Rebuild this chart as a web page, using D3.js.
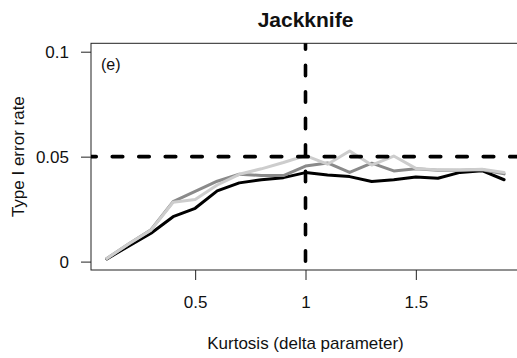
<!DOCTYPE html>
<html>
<head>
<meta charset="utf-8">
<script src="https://cdn.jsdelivr.net/npm/d3@7"></script>
<style>
  html, body { margin: 0; padding: 0; background: #fff; }
  svg { display: block; font-family: "Liberation Sans", Arial, Helvetica, sans-serif; }
</style>
</head>
<body>
<svg id="chart" width="517" height="358"></svg>
<script>
// Kurtosis (delta parameter) values at which the error rate was estimated
const kurtosis = [0.1, 0.2, 0.3, 0.4, 0.5, 0.6, 0.7, 0.8, 0.9, 1.0,
                  1.1, 1.2, 1.3, 1.4, 1.5, 1.6, 1.7, 1.8, 1.9];

// Type I error rates, one series per shade
const seriesBlack = [0.0013, 0.0075, 0.0135, 0.0214, 0.0254, 0.0337, 0.0375, 0.0390, 0.0400, 0.0424,
                     0.0413, 0.0405, 0.0382, 0.0390, 0.0403, 0.0397, 0.0425, 0.0433, 0.0390];
const seriesDark  = [0.0015, 0.0085, 0.0152, 0.0286, 0.0335, 0.0383, 0.0416, 0.0410, 0.0410, 0.0455,
                     0.0470, 0.0425, 0.0469, 0.0432, 0.0442, 0.0435, 0.0435, 0.0438, 0.0418];
const seriesLight = [0.0015, 0.0085, 0.0150, 0.0283, 0.0296, 0.0365, 0.0416, 0.0442, 0.0472, 0.0505,
                     0.0464, 0.0527, 0.0460, 0.0503, 0.0444, 0.0437, 0.0436, 0.0440, 0.0425];

const seriesColors = ["#000000", "#8a8a8a", "#cdcdcd"];

const xTicks = [0.5, 1, 1.5];
const yTicks = [0, 0.05, 0.1];
const yTickLabels = ["0", "0.05", "0.1"];

const nominalRate = 0.05;   // horizontal reference
const normalDelta = 1;      // vertical reference

const titleText = "Jackknife";
const panelTag = "(e)";
const xTitle = "Kurtosis (delta parameter)";
const yTitle = "Type I error rate";

const svg = d3.select("#chart");

const plot = { left: 91, right: 520, top: 43.3, bottom: 270 };

const x = d3.scaleLinear().domain([0.028, 1.972]).range([plot.left, plot.right]);
const y = d3.scaleLinear().domain([-0.004, 0.104]).range([plot.bottom, plot.top]);

svg.append("defs").append("clipPath").attr("id", "plotClip")
  .append("rect")
  .attr("x", plot.left).attr("y", plot.top)
  .attr("width", plot.right - plot.left).attr("height", plot.bottom - plot.top);

// Axes
const xAxis = d3.axisBottom(x).tickValues(xTicks).tickSize(10).tickPadding(17)
  .tickFormat(d3.format("~g"));
const gx = svg.append("g").attr("transform", `translate(0,${plot.bottom})`).call(xAxis);
gx.select(".domain").remove();

const yAxis = d3.axisLeft(y).tickValues(yTicks).tickSize(10).tickPadding(12)
  .tickFormat((d, i) => yTickLabels[i]);
const gy = svg.append("g").attr("transform", `translate(${plot.left},0)`).call(yAxis);
gy.select(".domain").remove();

[gx, gy].forEach(g => {
  g.selectAll(".tick line").attr("stroke", "#222").attr("stroke-width", 1);
  g.selectAll(".tick text").attr("fill", "#111").style("font-size", "17px");
});
gx.selectAll(".tick text").attr("dy", null).attr("y", 38);

// Plot frame
svg.append("rect")
  .attr("x", plot.left).attr("y", plot.top)
  .attr("width", plot.right - plot.left).attr("height", plot.bottom - plot.top)
  .attr("fill", "none").attr("stroke", "#222").attr("stroke-width", 1);

const body = svg.append("g").attr("clip-path", "url(#plotClip)");

// Series lines
const line = d3.line().x((d, i) => x(kurtosis[i])).y(d => y(d));
[seriesBlack, seriesDark, seriesLight].forEach((s, k) => {
  body.append("path")
    .datum(s)
    .attr("d", line)
    .attr("fill", "none")
    .attr("stroke", seriesColors[k])
    .attr("stroke-width", 3)
    .attr("stroke-linejoin", "round")
    .attr("stroke-linecap", "round");
});

// Dashed reference lines
body.append("line")
  .attr("x1", plot.left).attr("x2", plot.right)
  .attr("y1", y(nominalRate)).attr("y2", y(nominalRate))
  .attr("stroke", "#000").attr("stroke-width", 3.6)
  .attr("stroke-linecap", "round")
  .attr("stroke-dasharray", "10.5,16")
  .attr("stroke-dashoffset", 5.25);

body.append("line")
  .attr("x1", x(normalDelta)).attr("x2", x(normalDelta))
  .attr("y1", plot.top).attr("y2", plot.bottom)
  .attr("stroke", "#000").attr("stroke-width", 3.6)
  .attr("stroke-linecap", "round")
  .attr("stroke-dasharray", "10.5,16")
  .attr("stroke-dashoffset", 4.5);

// Texts
svg.append("text")
  .attr("x", (plot.left + plot.right) / 2).attr("y", 27)
  .attr("text-anchor", "middle")
  .style("font-size", "21px").style("font-weight", "bold")
  .attr("fill", "#111")
  .text(titleText);

svg.append("text")
  .attr("x", 101).attr("y", 70)
  .style("font-size", "16px").attr("fill", "#111")
  .text(panelTag);

svg.append("text")
  .attr("x", (plot.left + plot.right) / 2).attr("y", 349)
  .attr("text-anchor", "middle")
  .style("font-size", "17px").attr("fill", "#111")
  .text(xTitle);

svg.append("text")
  .attr("transform", `translate(24,${(plot.top + plot.bottom) / 2}) rotate(-90)`)
  .attr("text-anchor", "middle")
  .style("font-size", "17px").attr("fill", "#111")
  .text(yTitle);
</script>
</body>
</html>
